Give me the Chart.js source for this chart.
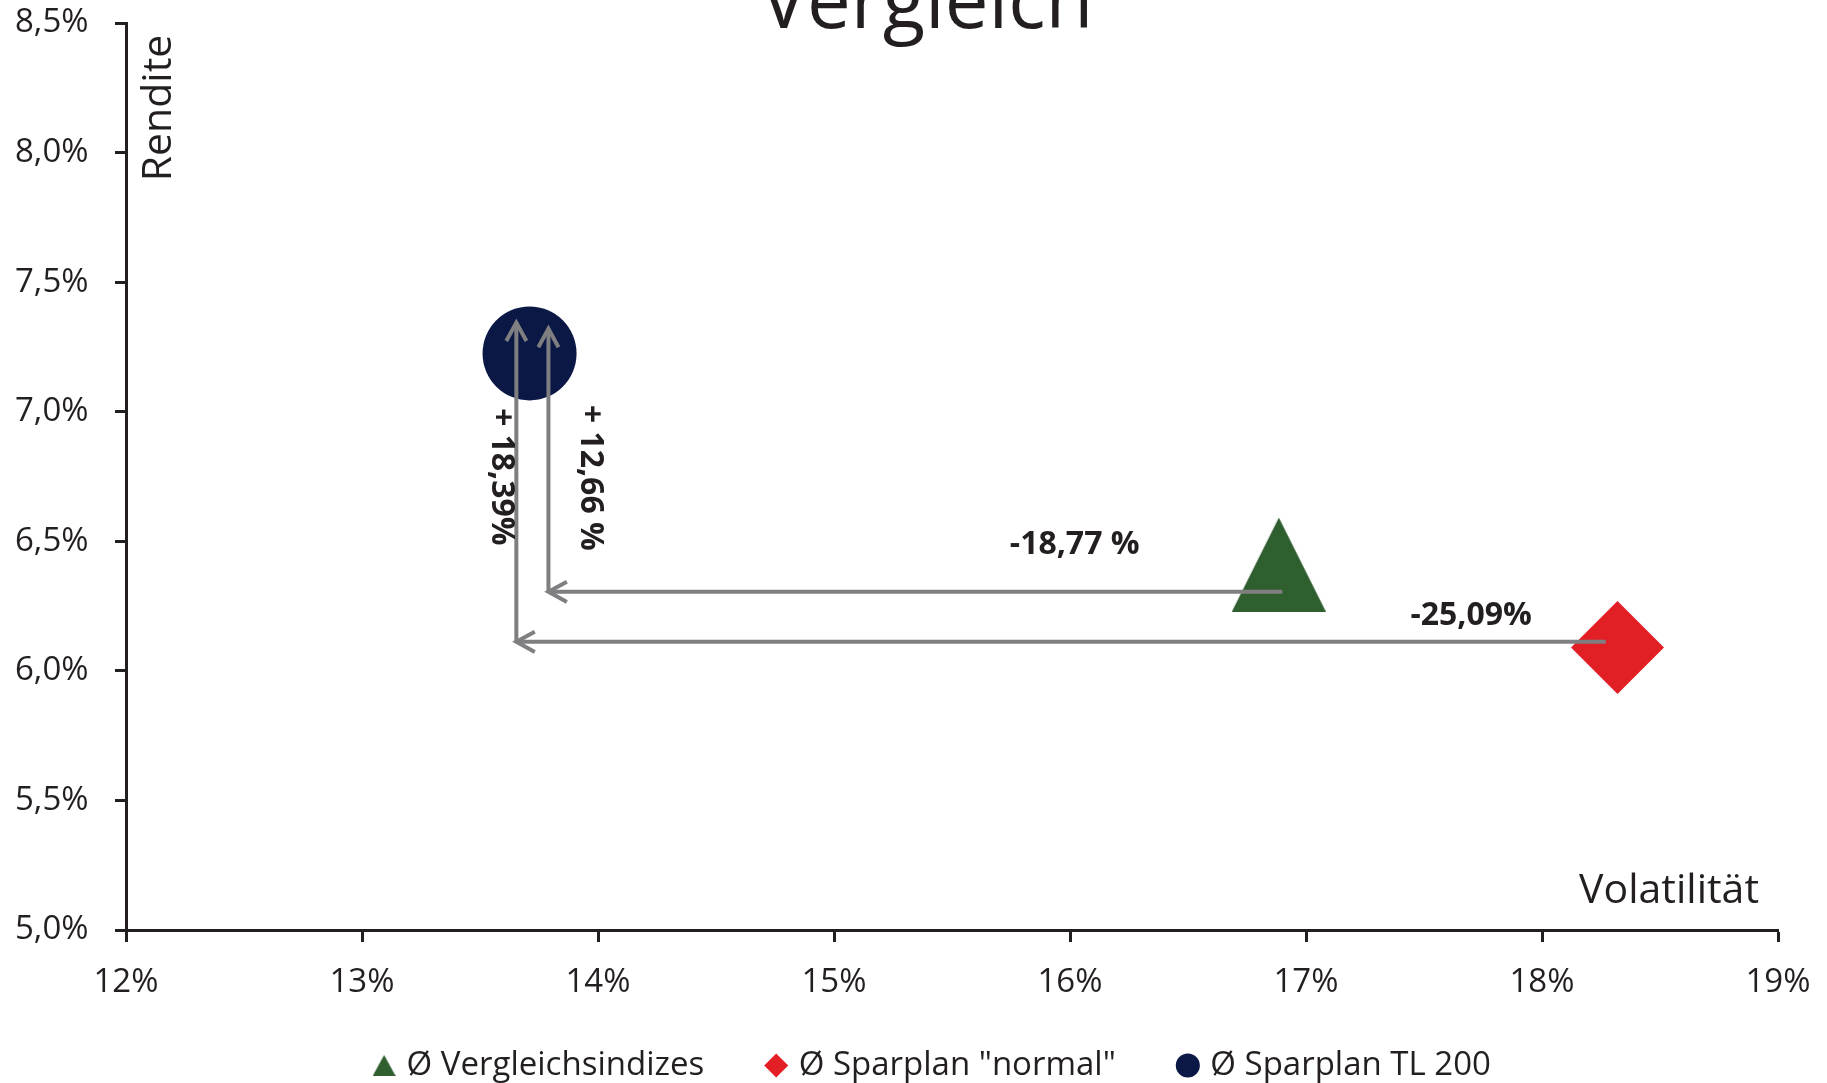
<!DOCTYPE html>
<html lang="de">
<head>
<meta charset="utf-8">
<title>Vergleich</title>
<script src="https://cdn.jsdelivr.net/npm/chart.js@4.4.1/dist/chart.umd.min.js"></script>
<style>
  html, body { margin: 0; padding: 0; background: #fff; }
  #wrap { position: relative; width: 1827px; height: 1083px; overflow: hidden; }
</style>
</head>
<body>
<div id="wrap"><canvas id="myChart" width="1827" height="1083"></canvas></div>
<script>
"use strict";

// series (volatility = x, return = y, both in %)
const seriesNames = ["Ø Vergleichsindizes", "Ø Sparplan \"normal\"", "Ø Sparplan TL 200"];
const volatility = [16.885, 18.32, 13.71];
const returns = [6.41, 6.09, 7.225];

// axis ticks
const xTicks = [12, 13, 14, 15, 16, 17, 18, 19];
const yTicks = [5.0, 5.5, 6.0, 6.5, 7.0, 7.5, 8.0, 8.5];

// arrows, in axis units (from -> to)
const arrowFromX = [16.90, 13.79, 18.27, 13.654];
const arrowFromY = [6.305, 6.305, 6.112, 6.112];
const arrowToX = [13.79, 13.79, 13.654, 13.654];
const arrowToY = [6.305, 7.32, 6.112, 7.344];

// change labels
const changeText = ["-18,77 %", "+ 12,66 %", "-25,09%", "+ 18,39%"];
const changeX = [16.02, 13.967, 17.70, 13.59];
const changeY = [6.486, 6.745, 6.212, 6.749];
const changeRotated = [false, true, false, true];

const colors = ["#2f5e2f", "#e31f26", "#0b1744"];
const textColor = "#231f20";
const arrowColor = "#7f7f82";
const fontFamily = "'Open Sans', sans-serif";

Chart.defaults.font.family = fontFamily;
Chart.defaults.color = textColor;

// triangle marker as an image so it sits centred like the original
function triangleImage(w, h, color) {
  const c = document.createElement("canvas");
  c.width = w;
  c.height = h;
  const g = c.getContext("2d");
  g.fillStyle = color;
  g.beginPath();
  g.moveTo(w / 2, 0);
  g.lineTo(w, h);
  g.lineTo(0, h);
  g.closePath();
  g.fill();
  return c;
}

const legendTriangle = triangleImage(23, 21, colors[0]);

function drawArrow(ctx, x1, y1, x2, y2) {
  ctx.beginPath();
  ctx.moveTo(x1, y1);
  ctx.lineTo(x2, y2);
  ctx.stroke();
  const ang = Math.atan2(y2 - y1, x2 - x1);
  const len = 21, spread = 0.5;
  ctx.beginPath();
  ctx.moveTo(x2 - len * Math.cos(ang - spread), y2 - len * Math.sin(ang - spread));
  ctx.lineTo(x2, y2);
  ctx.lineTo(x2 - len * Math.cos(ang + spread), y2 - len * Math.sin(ang + spread));
  ctx.stroke();
}

// move the legend a bit right and up after layout
const legendShift = {
  id: "legendShift",
  afterLayout(chart) {
    const lg = chart.legend;
    if (!lg) return;
    lg.left += 38;
    lg.right += 38;
    lg.top -= 27;
    lg.bottom -= 27;
  }
};

const annotations = {
  id: "annotations",
  afterDatasetsDraw(chart) {
    const { ctx, chartArea } = chart;
    const xs = chart.scales.x, ys = chart.scales.y;

    ctx.save();
    ctx.strokeStyle = arrowColor;
    ctx.lineWidth = 4;
    ctx.lineCap = "butt";
    ctx.lineJoin = "miter";
    for (let i = 0; i < arrowFromX.length; i++) {
      drawArrow(ctx,
        xs.getPixelForValue(arrowFromX[i]), ys.getPixelForValue(arrowFromY[i]),
        xs.getPixelForValue(arrowToX[i]), ys.getPixelForValue(arrowToY[i]));
    }

    ctx.fillStyle = textColor;
    ctx.font = "bold 32px " + fontFamily;
    ctx.textAlign = "center";
    ctx.textBaseline = "middle";
    for (let i = 0; i < changeText.length; i++) {
      const px = xs.getPixelForValue(changeX[i]);
      const py = ys.getPixelForValue(changeY[i]);
      ctx.save();
      ctx.translate(px, py);
      if (changeRotated[i]) ctx.rotate(Math.PI / 2);
      ctx.fillText(changeText[i], 0, 0);
      ctx.restore();
    }

    // axis titles inside the plot
    ctx.font = "41px " + fontFamily;
    ctx.textBaseline = "alphabetic";
    ctx.save();
    ctx.translate(chartArea.left + 45, chartArea.top + 85);
    ctx.rotate(-Math.PI / 2);
    ctx.textAlign = "center";
    ctx.fillText("Rendite", 0, 0);
    ctx.restore();

    ctx.textAlign = "right";
    ctx.fillText("Volatilität", chartArea.right - 19, chartArea.bottom - 27);

    // chart title, partly cut at the top edge
    ctx.font = "78px " + fontFamily;
    ctx.textAlign = "center";
    ctx.fillText("Vergleich", (chartArea.left + chartArea.right) / 2 - 25, 28);
    ctx.restore();
  }
};

const scatterCanvas = document.getElementById("myChart");

const scatterChart = new Chart(scatterCanvas, {
  type: "scatter",
  data: {
    datasets: [
      {
        label: seriesNames[0],
        data: [{ x: volatility[0], y: returns[0] }],
        pointStyle: triangleImage(94, 94, colors[0]),
        backgroundColor: colors[0],
        borderWidth: 0,
        pointRadius: 3,
      },
      {
        label: seriesNames[1],
        data: [{ x: volatility[1], y: returns[1] }],
        pointStyle: "rectRot",
        backgroundColor: colors[1],
        borderWidth: 0,
        pointRadius: 46.5,
      },
      {
        label: seriesNames[2],
        data: [{ x: volatility[2], y: returns[2] }],
        pointStyle: "circle",
        backgroundColor: colors[2],
        borderWidth: 0,
        pointRadius: 47,
      },
    ],
  },
  options: {
    responsive: false,
    animation: false,
    events: [],
    layout: {
      autoPadding: false,
      padding: { left: 15, right: 49, top: 23, bottom: -36 },
    },
    scales: {
      x: {
        type: "linear",
        min: 12,
        max: 19,
        afterBuildTicks: (s) => { s.ticks = xTicks.map((v) => ({ value: v })); },
        afterFit: (s) => {
          s.height = 80;
          s.paddingLeft = 0;
          s.paddingRight = 0;
        },
        grid: {
          drawOnChartArea: false,
          drawTicks: true,
          tickLength: 12,
          tickWidth: 3,
          tickColor: textColor,
        },
        border: { display: true, color: textColor, width: 3 },
        ticks: {
          color: textColor,
          font: { size: 33 },
          padding: 21,
          maxRotation: 0,
          autoSkip: false,
          callback: (v) => v + "%",
        },
      },
      y: {
        type: "linear",
        min: 5,
        max: 8.5,
        afterBuildTicks: (s) => { s.ticks = yTicks.map((v) => ({ value: v })); },
        afterFit: (s) => {
          s.width = 111;
          s.paddingTop = 0;
          s.paddingBottom = 0;
        },
        grid: {
          drawOnChartArea: false,
          drawTicks: true,
          tickLength: 11,
          tickWidth: 3,
          tickColor: textColor,
        },
        border: { display: true, color: textColor, width: 3 },
        ticks: {
          color: textColor,
          font: { size: 33 },
          padding: 0,
          crossAlign: "far",
          autoSkip: false,
          callback: (v) => v.toFixed(1).replace(".", ",") + "%",
        },
      },
    },
    plugins: {
      title: { display: false },
      tooltip: { enabled: false },
      legend: {
        display: true,
        position: "bottom",
        labels: {
          usePointStyle: true,
          boxWidth: 12,
          boxHeight: 17,
          padding: 66,
          color: textColor,
          font: { size: 33 },
          generateLabels(chart) {
            const items = Chart.defaults.plugins.legend.labels.generateLabels(chart);
            items.forEach((it) => {
              if (typeof it.pointStyle === "object") it.pointStyle = legendTriangle;
              it.lineWidth = 0;
              it.strokeStyle = "rgba(0,0,0,0)";
            });
            return items;
          },
        },
      },
    },
  },
  plugins: [annotations, legendShift],
});
</script>
</body>
</html>
